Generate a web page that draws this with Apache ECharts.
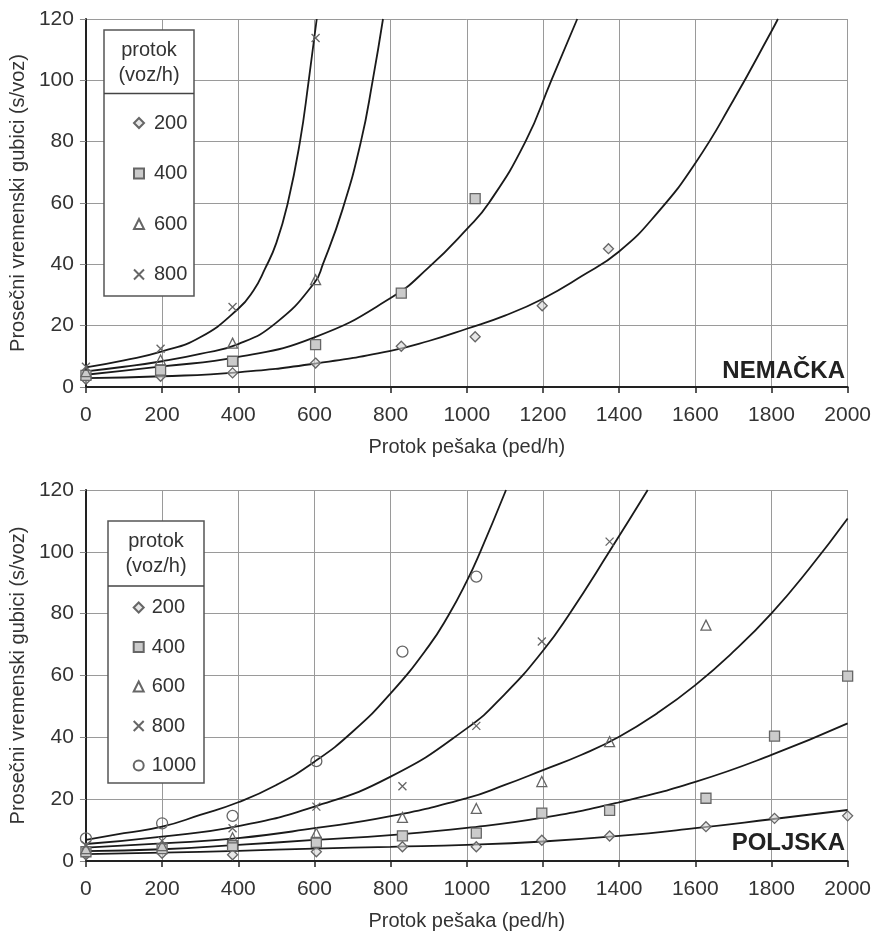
<!DOCTYPE html>
<html>
<head>
<meta charset="utf-8">
<script src="https://cdn.jsdelivr.net/npm/echarts@6/dist/echarts.min.js"></script>
<style>
html,body{margin:0;padding:0;background:#fff;}
#chart{width:874px;height:935px;}
</style>
</head>
<body>
<div id="chart"></div>
<script>
// ---------- DATA ----------
const legendTitle = ['protok', '(voz/h)'];
const xAxisName = 'Protok pešaka (ped/h)';
const yAxisName = 'Prosečni vremenski gubici (s/voz)';
const panelLabels = ['NEMAČKA', 'POLJSKA'];

const nemCategories = ['200', '400', '600', '800'];
const polCategories = ['200', '400', '600', '800', '1000'];

// Germany – measured points [pedestrian flow, delay]
const nem200 = [[0,2.5],[196,3.5],[385,4.6],[603,7.8],[828,13.3],[1022,16.4],[1198,26.5],[1372,45.1]];
const nem400 = [[0,3.8],[196,5.5],[385,8.4],[603,13.8],[828,30.6],[1022,61.4]];
const nem600 = [[0,5.0],[196,8.8],[385,14.3],[603,35.0]];
const nem800 = [[0,6.6],[196,12.5],[385,26.1],[603,113.8]];

// Germany – fitted curves
const nemFit200 = [[0,2.9],[200,3.5],[400,4.8],[600,7.6],[800,11.8],[900,15],[1000,19],[1100,23.3],[1200,28.8],[1300,36],[1400,44.2],[1500,56.7],[1600,73],[1700,93.5],[1800,116],[1817,120]];
const nemFit400 = [[0,4],[200,6.7],[400,9.8],[600,16.2],[800,29],[900,39],[1000,51.5],[1058,60],[1154,80],[1222,100],[1290,120]];
const nemFit600 = [[0,5.1],[100,6.6],[200,8.4],[300,10.8],[400,14],[500,21],[600,34],[622,40],[674,58],[722,80],[753,100],[780,120]];
const nemFit800 = [[0,6.4],[100,8.7],[200,11.6],[300,16.2],[400,25.5],[440,31.5],[470,38.5],[500,47],[530,60],[562,80],[585,100],[606,120]];

// Poland – measured points
const pol200 = [[0,2],[200,2.5],[385,2],[605,3],[831,4.6],[1025,4.6],[1197,6.7],[1375,8.1],[1628,11.1],[1808,13.8],[2000,14.6]];
const pol400 = [[0,3],[200,4],[385,5],[605,6],[831,8.1],[1025,9],[1197,15.5],[1375,16.4],[1628,20.3],[1808,40.4],[2000,59.8]];
const pol600 = [[0,4],[200,5],[385,7.5],[605,9],[831,14.1],[1025,17],[1197,25.7],[1375,38.6],[1628,76.3]];
const pol800 = [[0,5],[200,6.5],[385,10.6],[605,17.6],[831,24.2],[1025,43.7],[1197,71],[1375,103.3]];
const pol1000 = [[0,7.3],[200,12.2],[385,14.6],[605,32.3],[831,67.7],[1025,92]];

// Poland – fitted curves
const polFit200 = [[0,2.2],[200,2.7],[400,3.3],[600,4.0],[800,4.6],[1000,5.2],[1200,6.3],[1400,8.1],[1600,10.6],[1800,13.5],[2000,16.5]];
const polFit400 = [[0,3.2],[200,3.8],[400,5.2],[600,6.8],[800,8.4],[1000,10.7],[1200,14],[1400,19],[1600,25.6],[1800,34.3],[2000,44.5]];
const polFit600 = [[0,4.3],[200,5.7],[400,7.4],[600,10.6],[800,14.5],[1000,20.3],[1100,24.6],[1200,29.4],[1300,34.3],[1400,40.2],[1500,47.8],[1600,56.9],[1700,67.7],[1800,80.1],[1900,94.7],[2000,110.8]];
const polFit800 = [[0,5.5],[200,7.9],[400,11.3],[600,17.6],[800,27.3],[1000,42.9],[1100,54],[1200,68],[1270,80],[1374,100],[1475,120]];
const polFit1000 = [[0,6.8],[100,9],[200,11.1],[300,14.9],[400,19],[500,24.6],[600,32.1],[700,41.8],[800,54.2],[900,69.5],[952,79.5],[1000,90.5],[1032,99],[1103,120]];

// ---------- STYLE ----------
const FONT = '"Liberation Sans", Arial, Helvetica, sans-serif';
const TXT = '#333';
const MARK = '#666';
const symbols = {
  '200': {symbol: 'diamond', size: 10, fill: 'rgba(215,215,215,0.6)'},
  '400': {symbol: 'rect', size: 10, fill: '#cbcbcb'},
  '600': {symbol: 'triangle', size: 10, fill: 'rgba(255,255,255,0)'},
  '800': {symbol: 'path://M0,0L10,10M10,0L0,10', size: 8, fill: 'rgba(255,255,255,0)'},
  '1000': {symbol: 'circle', size: 11, fill: 'rgba(255,255,255,0)'}
};

function xAxisCfg(gi) {
  return {
    type: 'value', gridIndex: gi, min: 0, max: 2000, interval: 200,
    name: xAxisName, nameLocation: 'middle', nameGap: 50,
    nameTextStyle: {fontSize: 20, color: TXT, fontFamily: FONT},
    axisLine: {show: true, onZero: false, lineStyle: {color: '#222', width: 2}},
    axisTick: {show: true, inside: false, length: 6, lineStyle: {color: '#222', width: 1.5}},
    axisLabel: {fontSize: 21, color: TXT, fontFamily: FONT, margin: 18, formatter: v => String(v)},
    splitLine: {show: true, lineStyle: {color: '#9a9a9a', width: 1}}
  };
}
function yAxisCfg(gi) {
  return {
    type: 'value', gridIndex: gi, min: 0, max: 120, interval: 20,
    name: yAxisName, nameLocation: 'middle', nameGap: 52,
    nameTextStyle: {fontSize: 20, color: TXT, fontFamily: FONT},
    axisLine: {show: true, onZero: false, lineStyle: {color: '#222', width: 2}},
    axisTick: {show: true, inside: false, length: 6, lineStyle: {color: '#888', width: 1}},
    axisLabel: {fontSize: 21, color: TXT, fontFamily: FONT, margin: 12, formatter: v => String(v)},
    splitLine: {show: true, lineStyle: {color: '#9a9a9a', width: 1}}
  };
}

function scatter(name, key, data, gi) {
  const s = symbols[key];
  return {
    name: name, type: 'scatter', xAxisIndex: gi, yAxisIndex: gi, data: data,
    symbol: s.symbol, symbolSize: s.size, z: 4,
    itemStyle: {color: s.fill, borderColor: MARK, borderWidth: 1.3, opacity: 1}
  };
}
function fit(data, gi) {
  return {
    type: 'line', xAxisIndex: gi, yAxisIndex: gi, data: data,
    smooth: 0.5, showSymbol: false, symbol: 'none', z: 3,
    lineStyle: {color: '#1a1a1a', width: 1.8}, clip: true, silent: true
  };
}

const nemPoints = [nem200, nem400, nem600, nem800];
const nemFits = [nemFit200, nemFit400, nemFit600, nemFit800];
const polPoints = [pol200, pol400, pol600, pol800, pol1000];
const polFits = [polFit200, polFit400, polFit600, polFit800, polFit1000];

const series = [];
nemFits.forEach(d => series.push(fit(d, 0)));
polFits.forEach(d => series.push(fit(d, 1)));
nemCategories.forEach((c, i) => series.push(scatter('N' + c, c, nemPoints[i], 0)));
polCategories.forEach((c, i) => series.push(scatter('P' + c, c, polPoints[i], 1)));

function legendBox(x, y, w, h, sepY, cx, t1, t2) {
  return [
    {type: 'rect', z: 5, shape: {x: x, y: y, width: w, height: h},
     style: {fill: '#fff', stroke: '#555', lineWidth: 1.5}},
    {type: 'line', z: 6, shape: {x1: x, y1: sepY, x2: x + w, y2: sepY},
     style: {stroke: '#444', lineWidth: 1.5}},
    {type: 'text', z: 6, x: cx, y: t1,
     style: {text: legendTitle[0], font: '20px ' + FONT, fill: TXT, textAlign: 'center', textVerticalAlign: 'middle'}},
    {type: 'text', z: 6, x: cx, y: t2,
     style: {text: legendTitle[1], font: '20px ' + FONT, fill: TXT, textAlign: 'center', textVerticalAlign: 'middle'}}
  ];
}

const option = {
  animation: false,
  backgroundColor: '#fff',
  textStyle: {fontFamily: FONT},
  grid: [
    {left: 85, right: 24, top: 19, height: 368, containLabel: false},
    {left: 84, right: 24, top: 490, height: 371, containLabel: false}
  ],
  xAxis: [xAxisCfg(0), xAxisCfg(1)],
  yAxis: [yAxisCfg(0), yAxisCfg(1)],
  legend: [
    {orient: 'vertical', left: 128, top: 108, itemWidth: 10, itemHeight: 10, itemGap: 30.5,
     data: nemCategories.map(c => 'N' + c), formatter: n => n.slice(1), selectedMode: false, z: 10,
     textStyle: {fontSize: 20, color: TXT, fontFamily: FONT, padding: [0, 0, 0, 5]}},
    {orient: 'vertical', left: 127.7, top: 592.5, itemWidth: 10, itemHeight: 10, itemGap: 19.5,
     data: polCategories.map(c => 'P' + c), formatter: n => n.slice(1), selectedMode: false, z: 10,
     textStyle: {fontSize: 20, color: TXT, fontFamily: FONT, padding: [0, 0, 0, 3]}}
  ],
  graphic: [].concat(
    legendBox(104, 30, 90, 266, 93.5, 149, 50, 75),
    legendBox(108, 521, 96, 262, 586, 156, 541, 566),
    [
      {type: 'text', z: 6, x: 845, y: 371,
       style: {text: panelLabels[0], font: 'bold 24px ' + FONT, fill: '#222', textAlign: 'right', textVerticalAlign: 'middle'}},
      {type: 'text', z: 6, x: 845, y: 843,
       style: {text: panelLabels[1], font: 'bold 24px ' + FONT, fill: '#222', textAlign: 'right', textVerticalAlign: 'middle'}}
    ]
  ),
  series: series
};

const chart = echarts.init(document.getElementById('chart'), null, {renderer: 'canvas'});
chart.setOption(option);
</script>
</body>
</html>
